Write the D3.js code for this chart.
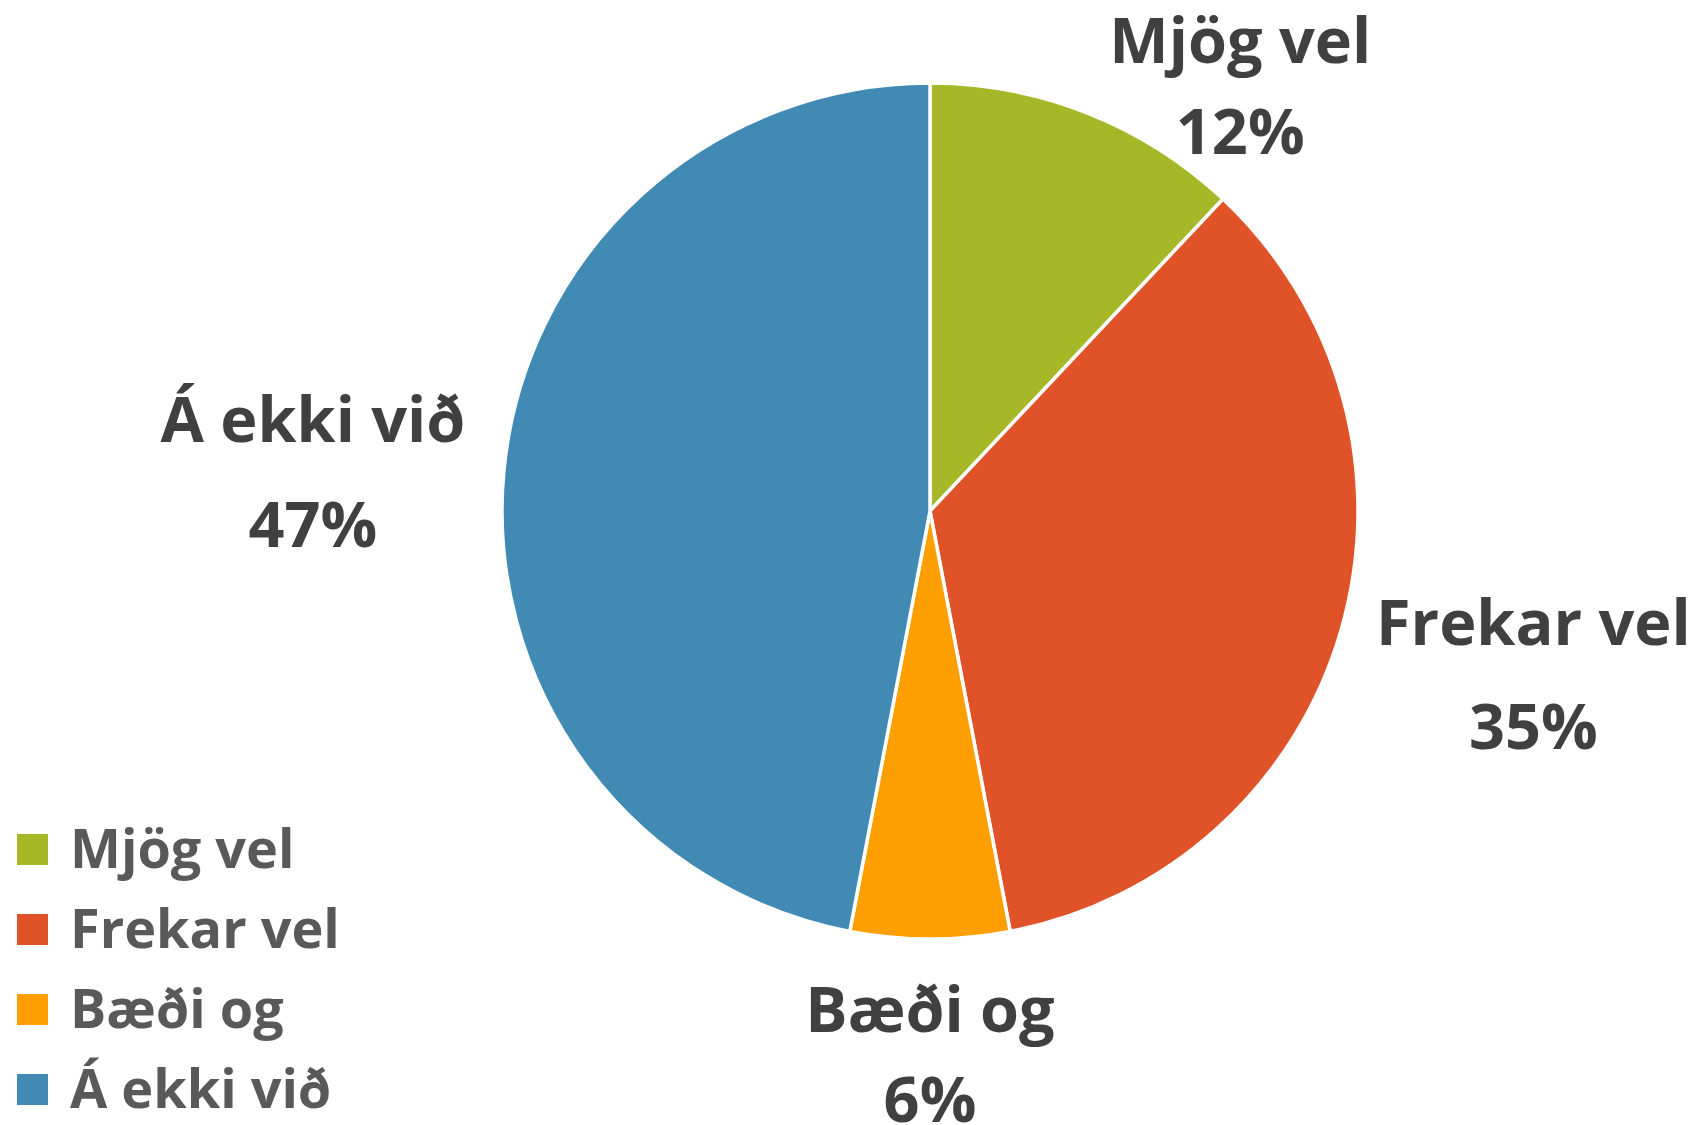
<!DOCTYPE html>
<html>
<head>
<meta charset="utf-8">
<script src="https://cdn.jsdelivr.net/npm/d3@7"></script>
<style>
  body { margin: 0; background: #fff; }
  text { font-family: "Open Sans", "DejaVu Sans", sans-serif; font-weight: 700; }
</style>
</head>
<body>
<div id="chart"></div>
<script>
// data
const categories = ["Mjög vel", "Frekar vel", "Bæði og", "Á ekki við"];
const shares = [12, 35, 6, 47];
const colors = ["#A6B727", "#E05328", "#FE9F00", "#418AB3"];

// where each outside label sits (polar, from pie centre; deg clockwise from top)
const labelAngle = [34.7, 102.5, 180, 276.4];
const labelDist = [545, 618, 521, 621];
const pctOffset = [91, 104, 90, 105];

const config = {
  width: 1695,
  height: 1125,
  cx: 930,
  cy: 511,
  radius: 428,
  labelSize: 63,
  legendSize: 54,
  legend: {x: 17, y: 834, box: 31, step: 80, textX: 70}
};

const data = categories.map((c, i) => ({name: c, value: shares[i], color: colors[i], i}));

const svg = d3.select('#chart').append('svg')
    .attr('width', config.width)
    .attr('height', config.height);

const pie = d3.pie().value(d => d.value).sort(null);
const arc = d3.arc().innerRadius(0).outerRadius(config.radius);

const pieG = svg.append('g')
    .attr('transform', `translate(${config.cx},${config.cy})`);

pieG.selectAll('path')
  .data(pie(data))
  .join('path')
    .attr('d', arc)
    .attr('fill', d => d.data.color)
    .attr('stroke', '#fff')
    .attr('stroke-width', 3.5)
    .attr('stroke-linejoin', 'round');

// data labels
const labels = pieG.selectAll('.label')
  .data(data)
  .join('g')
    .attr('class', 'label')
    .attr('transform', d => {
      const a = labelAngle[d.i] * Math.PI / 180;
      const r = labelDist[d.i];
      return `translate(${Math.sin(a) * r},${-Math.cos(a) * r})`;
    });

labels.append('text')
    .attr('text-anchor', 'middle')
    .attr('fill', '#404040')
    .style('font-size', config.labelSize + 'px')
    .text(d => d.name);

labels.append('text')
    .attr('text-anchor', 'middle')
    .attr('y', d => pctOffset[d.i])
    .attr('fill', '#404040')
    .style('font-size', config.labelSize + 'px')
    .text(d => d.value + '%');

// legend
const lg = config.legend;
const items = svg.append('g').selectAll('g')
  .data(data)
  .join('g')
    .attr('transform', (d, i) => `translate(${lg.x},${lg.y + i * lg.step})`);

items.append('rect')
    .attr('width', lg.box)
    .attr('height', lg.box)
    .attr('fill', d => d.color);

items.append('text')
    .attr('x', lg.textX - lg.x)
    .attr('y', 34)
    .attr('fill', '#595959')
    .style('font-size', config.legendSize + 'px')
    .text(d => d.name);
</script>
</body>
</html>
